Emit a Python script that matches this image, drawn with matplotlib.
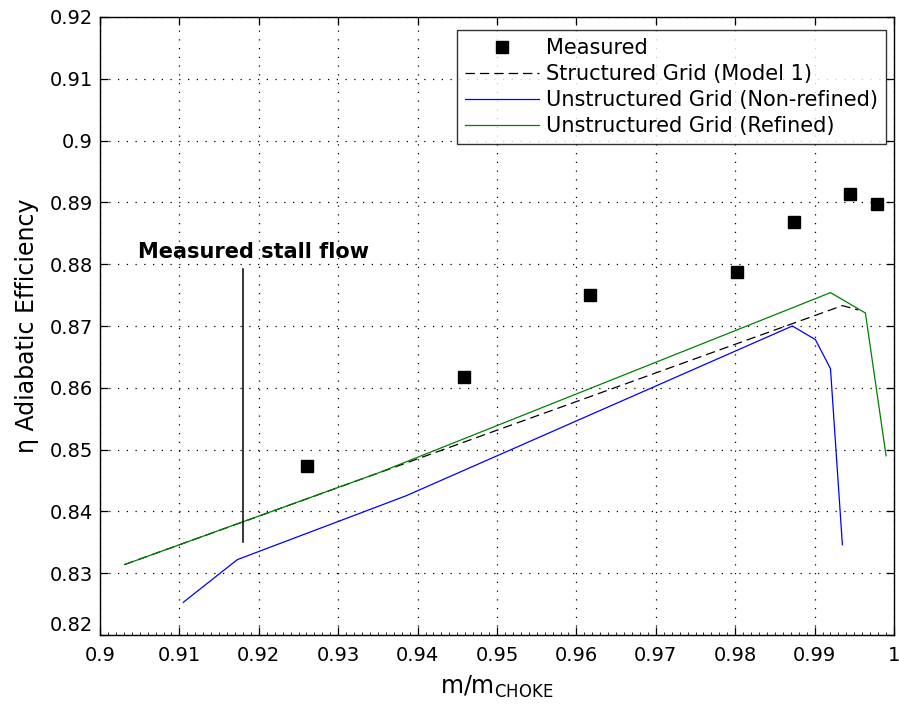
import matplotlib
matplotlib.use("Agg")
import matplotlib.pyplot as plt
from matplotlib.ticker import MultipleLocator, FuncFormatter

plt.rcParams['font.family'] = ['DejaVu Sans']
plt.rcParams['mathtext.fontset'] = 'custom'
plt.rcParams['mathtext.rm'] = 'DejaVu Sans'

# Measured efficiency
meas_x = [0.9261, 0.9459, 0.9617, 0.9802, 0.9874, 0.9944, 0.9978]
meas_y = [0.8473, 0.8618, 0.8750, 0.8788, 0.8868, 0.8913, 0.8898]

# Structured grid (Model 1)
struct_x = [0.9031, 0.9935, 0.9955]
struct_y = [0.8314, 0.8733, 0.8726]

# Unstructured grid, non-refined
unref_x = [0.9105, 0.9173, 0.9385, 0.9872, 0.9901, 0.9920, 0.9935]
unref_y = [0.8253, 0.8322, 0.8425, 0.8700, 0.8678, 0.8631, 0.8346]

# Unstructured grid, refined
ref_x = [0.9031, 0.9350, 0.9920, 0.9964, 0.9990]
ref_y = [0.8314, 0.8462, 0.8754, 0.8721, 0.8490]

# Stall flow marker
stall_x = 0.918
stall_y = [0.8350, 0.8792]
stall_label = "Measured stall flow"

x_ticks = [0.90, 0.91, 0.92, 0.93, 0.94, 0.95, 0.96, 0.97, 0.98, 0.99, 1.00]
y_ticks = [0.82, 0.83, 0.84, 0.85, 0.86, 0.87, 0.88, 0.89, 0.90, 0.91, 0.92]

fig = plt.figure(figsize=(8.99, 7.2), dpi=100)
ax = fig.add_axes([100 / 899, 85 / 720, 794 / 899, 618 / 720])

ax.plot(meas_x, meas_y, 's', color='black', markersize=8.5, label='Measured', zorder=5)
ax.plot(struct_x, struct_y, color='black', lw=0.9, dashes=(7.5, 4), label='Structured Grid (Model 1)', zorder=3)
ax.plot(unref_x, unref_y, color='#0000ff', lw=0.9, label='Unstructured Grid (Non-refined)', zorder=4)
ax.plot(ref_x, ref_y, color='#008000', lw=0.9, label='Unstructured Grid (Refined)', zorder=4)

ax.plot([stall_x, stall_x], stall_y, color='black', lw=1.1, zorder=4)
ax.text(stall_x + 0.0013, 0.8810, stall_label, ha='center', va='baseline',
        fontsize=15, fontweight='bold')

ax.set_xlim(0.9, 1.0)
ax.set_ylim(0.82, 0.92)
ax.set_xticks(x_ticks)
ax.set_yticks(y_ticks)
fmt = FuncFormatter(lambda v, p: f"{v:.2f}".rstrip('0').rstrip('.'))
ax.xaxis.set_major_formatter(fmt)
ax.yaxis.set_major_formatter(fmt)
ax.xaxis.set_minor_locator(MultipleLocator(0.001))

ax.tick_params(which='major', direction='in', length=6, width=0.9,
               top=True, right=True, labelsize=14)
ax.tick_params(axis='x', which='major', pad=8)
ax.tick_params(axis='y', which='major', pad=5)
ax.tick_params(which='minor', direction='in', length=2.5, width=0.6,
               top=False, bottom=True)
# lowest y label sits above the corner, clear of the first x label
ax.yaxis.get_major_ticks()[0].label1.set_verticalalignment('bottom')

ax.grid(True, which='major', color='black', linestyle=(0, (1, 6)), lw=0.9)
for s in ax.spines.values():
    s.set_linewidth(1.0)

ax.set_xlabel(r'$\mathregular{m/m_{CHOKE}}$', fontsize=17, labelpad=6)
ax.set_ylabel('\u03b7 Adiabatic Efficiency', fontsize=17, labelpad=8)

leg = ax.legend(loc='upper right', bbox_to_anchor=(0.990, 0.979), borderaxespad=0,
                fontsize=15, frameon=True, fancybox=False, handlelength=3.55,
                handletextpad=0.33, labelspacing=0.28, borderpad=0.4)
leg.get_frame().set_edgecolor('black')
leg.get_frame().set_linewidth(1.0)

fig.savefig('out.png', dpi=100)
